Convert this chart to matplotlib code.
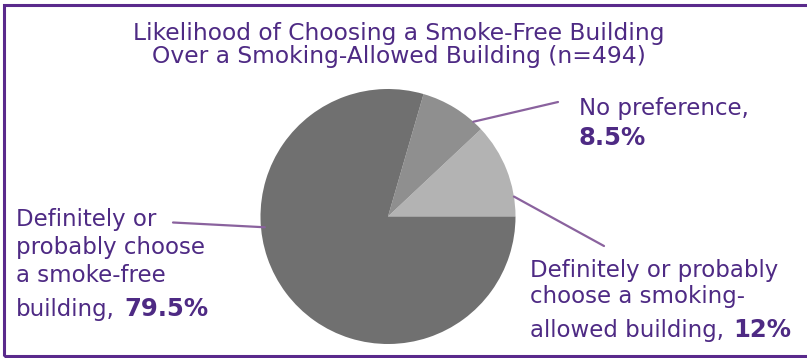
import numpy as np
import matplotlib
matplotlib.use("Agg")
import matplotlib.pyplot as plt
from matplotlib.patches import Rectangle

# ---- data ----
categories = ["Definitely or probably choose a smoking-allowed building",
              "No preference",
              "Definitely or probably choose a smoke-free building"]
values = [12, 8.5, 79.5]
value_labels = ["12%", "8.5%", "79.5%"]
slice_colors = ["#b3b3b3", "#8f8f8f", "#707070"]
title_lines = ["Likelihood of Choosing a Smoke-Free Building",
               "Over a Smoking-Allowed Building (n=494)"]

W, H = 807, 358
TEXT = "#4e2a84"
LEADER = "#8a629e"
BORDER = "#5a2a8c"

fig = plt.figure(figsize=(W / 100, H / 100), dpi=100)
fig.patch.set_facecolor("white")

def fx(x):
    return x / W

def fy(y):
    return 1 - y / H

# border (open on the right)
fig.add_artist(Rectangle((fx(4.3), fy(356.2)), 1.2, fy(4.8) - fy(356.2),
                         transform=fig.transFigure, fill=False,
                         edgecolor=BORDER, linewidth=2.2, clip_on=False))

# pie
cx, cy, r = 388, 216.5, 127.5
ax = fig.add_axes([fx(cx - r), fy(cy + r), 2 * r / W, 2 * r / H])
ax.pie(values, colors=slice_colors, startangle=0, counterclock=True,
       radius=1, wedgeprops=dict(linewidth=0))
ax.set_xlim(-1, 1)
ax.set_ylim(-1, 1)
ax.set_aspect("equal")
ax.axis("off")

# title
for i, line in enumerate(title_lines):
    fig.text(fx(399), fy([40, 63.5][i]), line, ha="center", va="baseline",
             fontsize=16.8, color=TEXT, family="DejaVu Sans")

REG = 16.5
BOLD = 17.5

renderer = fig.canvas.get_renderer()

def label(x, baselines, lines, bold_value):
    last = None
    for b, ln in zip(baselines, lines):
        last = fig.text(fx(x), fy(b), ln, ha="left", va="baseline",
                        fontsize=REG, color=TEXT, family="DejaVu Sans")
    ext = last.get_window_extent(renderer)
    bx = ext.x1 + 9
    fig.text(bx / W, fy(baselines[-1]),
             bold_value, ha="left", va="baseline", fontsize=BOLD,
             fontweight="bold", color=TEXT, family="DejaVu Sans")

# left label (smoke-free)
label(16, [226, 254, 282, 316],
      ["Definitely or", "probably choose", "a smoke-free", "building,"],
      value_labels[2])

# no preference
fig.text(fx(579), fy(115), "No preference,", ha="left", va="baseline",
         fontsize=REG, color=TEXT, family="DejaVu Sans")
fig.text(fx(579), fy(145), value_labels[1], ha="left", va="baseline",
         fontsize=BOLD, fontweight="bold", color=TEXT, family="DejaVu Sans")

# smoking allowed
label(530, [277, 303.5, 337],
      ["Definitely or probably", "choose a smoking-", "allowed building,"],
      value_labels[0])

# leader lines
def leader(angle_deg, rr, end_px):
    a = np.deg2rad(angle_deg)
    ax.annotate("", xy=(rr * np.cos(a), rr * np.sin(a)), xycoords="data",
                xytext=(end_px[0], H - end_px[1]), textcoords="figure pixels",
                arrowprops=dict(arrowstyle="-", color=LEADER, lw=1.6,
                                shrinkA=0, shrinkB=0), annotation_clip=False)

leader(48, 1.0, (558, 102))
leader(9, 1.0, (604, 246))
leader(185, 0.97, (173, 222.5))

fig.savefig("out.png", dpi=100)
